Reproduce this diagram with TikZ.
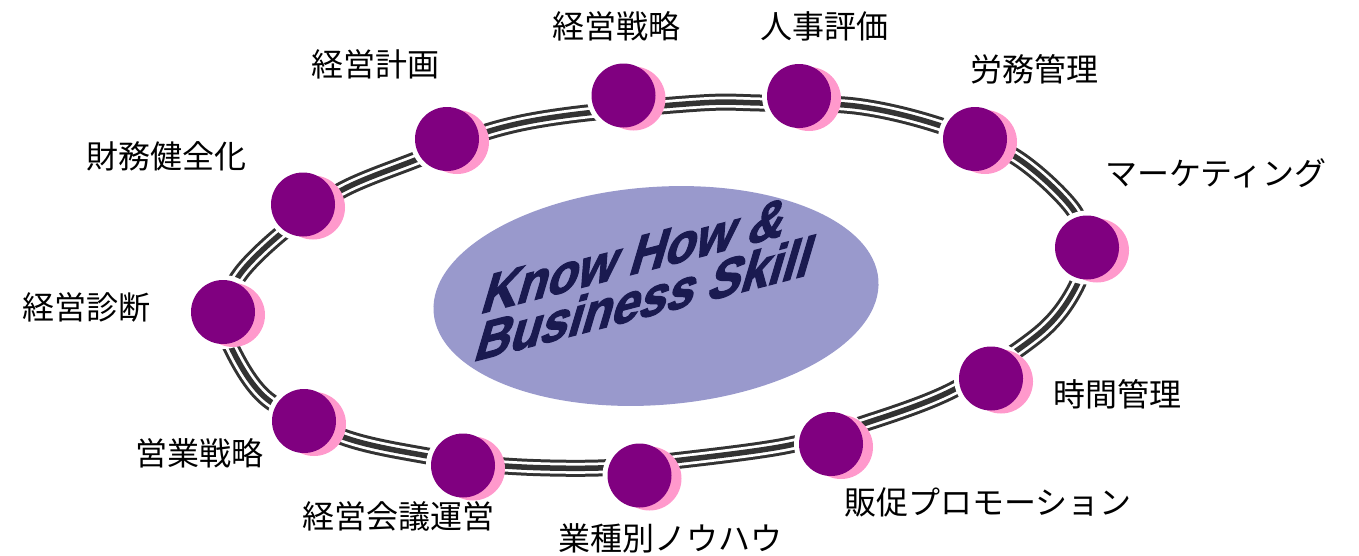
\documentclass[tikz,border=0pt]{standalone}
\usepackage{fontspec}
\newfontfamily\jpfont{Noto Sans CJK JP}
\newfontfamily\wordartfont{Liberation Sans}[FakeBold=2.6]
\usetikzlibrary{shadows,shapes.geometric}
\definecolor{ringgray}{HTML}{333333}
\definecolor{dotpurple}{HTML}{800080}
\definecolor{dotpink}{HTML}{FF99CC}
\definecolor{hubblue}{HTML}{9999CC}
\definecolor{hubtext}{HTML}{1A1A50}
\begin{document}
\begin{tikzpicture}[x=1pt,y=-1pt,
  ringline/.style={line width=17pt, draw=ringgray,
     postaction={draw=white, line width=11pt},
     postaction={draw=ringgray, line width=5.5pt}},
  dot/.style={circle, fill=dotpurple, minimum size=64pt, inner sep=0pt, outer sep=0pt,
     preaction={draw=white, fill=white, line width=10pt},
     drop shadow={shadow xshift=10pt, shadow yshift=-3pt, fill=dotpink, opacity=1}},
  lbl/.style={font=\jpfont\fontsize{32}{38}\selectfont, inner sep=0pt, text=black},
  hub/.style={ellipse, fill=hubblue, minimum width=446pt, minimum height=218pt, inner sep=0pt},
  hubtxt/.style={font=\wordartfont\bfseries\fontsize{51}{44}\selectfont,
     text=hubtext, inner sep=0pt, anchor=base west, xslant=0.6}
]
\useasboundingbox (0,0) rectangle (1359,555);
% ring
\draw[ringline] plot[smooth cycle, tension=0.55] coordinates {
 (224,310) (241,273) (283,232) (342,190) (418,159) (493,130) (570,115)
 (700,103) (760,103) (855,106) (935,124) (1014,156) (1072,208)
 (1084,248) (1076,287) (1040,333) (953,390) (863,424) (785,446) (673,461)
 (598,468) (505,466) (422,455) (343,437) (267,399) (230,345)};
% centre
\node[hub, rotate=4.2] (hub) at (656,296) {};
\begin{scope}[shift={(479,314)}, rotate=14.5, transform shape]
  \node[hubtxt] (t1) at (0,0) {Know How \&};
  \node[hubtxt] (t2) at (-18.6,44.5) {Business Skill};
\end{scope}
% dots
\node[dot] (c1) at (223,312) {};
\node[dot] (c2) at (303,204.5) {};
\node[dot] (c3) at (447,139) {};
\node[dot] (c4) at (623.5,95.5) {};
\node[dot] (c5) at (799,96) {};
\node[dot] (c6) at (975,139) {};
\node[dot] (c7) at (1087,247.5) {};
\node[dot] (c8) at (991,378.5) {};
\node[dot] (c9) at (831,444) {};
\node[dot] (c10) at (639.5,475.5) {};
\node[dot] (c11) at (463,465.5) {};
\node[dot] (c12) at (304,421) {};
% labels
\node[lbl] (l1) at (86,307.5) {経営診断};
\node[lbl] (l2) at (166,156) {財務健全化};
\node[lbl] (l3) at (375,64) {経営計画};
\node[lbl] (l4) at (616,26) {経営戦略};
\node[lbl] (l5) at (824,26) {人事評価};
\node[lbl] (l6) at (1034,69) {労務管理};
\node[lbl] (l7) at (1216,173) {マーケティング};
\node[lbl] (l8) at (1117,394) {時間管理};
\node[lbl] (l9) at (988,502.5) {販促プロモーション};
\node[lbl] (l10) at (670,538.5) {業種別ノウハウ};
\node[lbl] (l11) at (398,516.5) {経営会議運営};
\node[lbl] (l12) at (199,453.5) {営業戦略};
\end{tikzpicture}
\end{document}
